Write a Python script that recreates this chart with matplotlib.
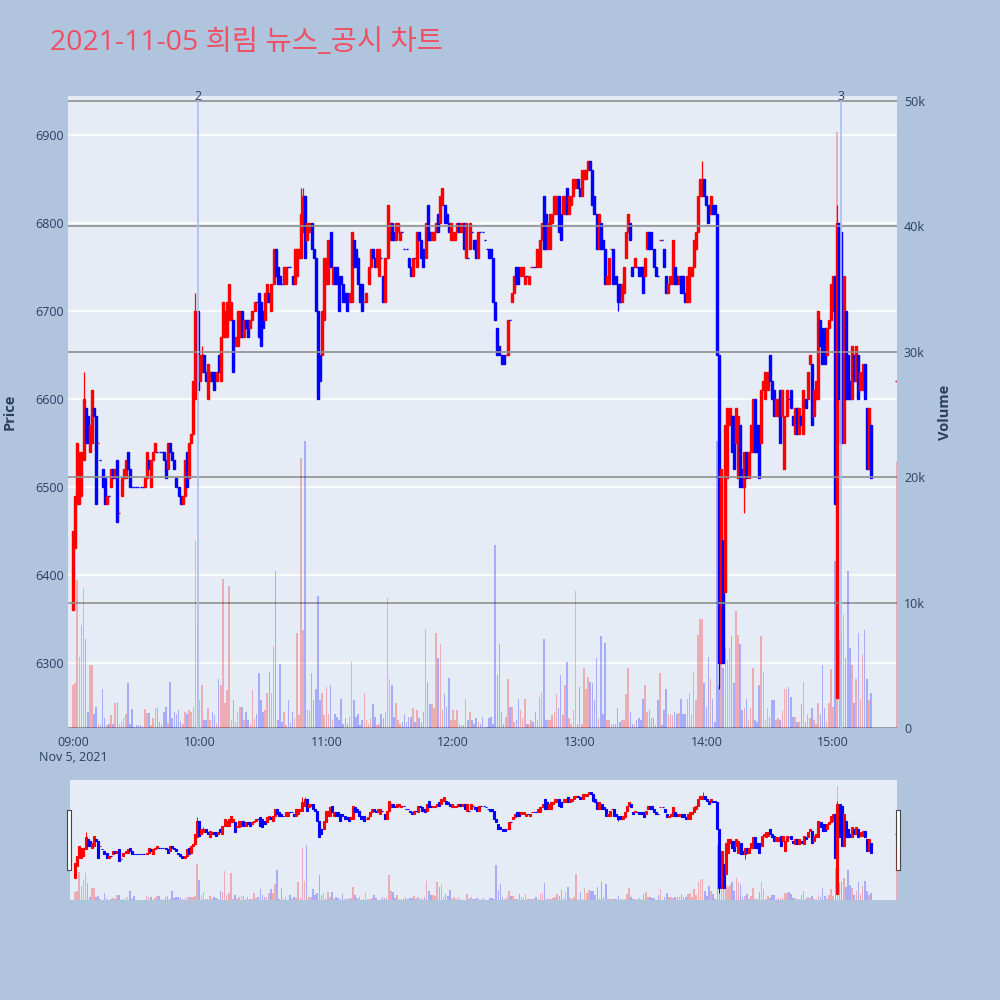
import numpy as np
import pandas as pd
import matplotlib
matplotlib.use('Agg')
import matplotlib.pyplot as plt
import matplotlib.dates as mdates
import matplotlib.transforms as mtransforms
from matplotlib.patches import Rectangle
from matplotlib.ticker import FuncFormatter

plt.rcParams['font.family'] = ['Open Sans', 'Noto Sans CJK KR', 'DejaVu Sans']

title = '2021-11-05 희림 뉴스_공시 차트'
start = '2021-11-05 09:00'

# one candle per minute from 09:00
opens = [
    6360, 6430, 6480, 6480, 6490, 6530, 6590, 6580, 6540, 6550,
    6590, 6580, 6550, 6530, 6520, 6510, 6480, 6490, 6500, 6520,
    6510, 6530, 6470, 6490, 6510, 6510, 6540, 6520, 6500, 6500,
    6500, 6500, 6500, 6500, 6500, 6510, 6530, 6500, 6530, 6540,
    6540, 6540, 6540, 6540, 6530, 6520, 6550, 6540, 6530, 6510,
    6500, 6490, 6480, 6490, 6540, 6510, 6550, 6560, 6600, 6700,
    6620, 6630, 6650, 6630, 6600, 6620, 6630, 6630, 6620, 6650,
    6620, 6670, 6670, 6670, 6690, 6690, 6690, 6660, 6660, 6670,
    6700, 6670, 6690, 6690, 6680, 6690, 6700, 6710, 6720, 6710,
    6700, 6690, 6710, 6720, 6700, 6730, 6770, 6750, 6740, 6730,
    6730, 6730, 6750, 6750, 6740, 6730, 6740, 6760, 6760, 6790,
    6830, 6780, 6790, 6800, 6770, 6760, 6700, 6650, 6650, 6690,
    6730, 6730, 6790, 6730, 6750, 6750, 6740, 6740, 6730, 6720,
    6720, 6710, 6710, 6780, 6770, 6760, 6730, 6730, 6710, 6710,
    6730, 6750, 6770, 6760, 6750, 6740, 6760, 6740, 6710, 6760,
    6780, 6800, 6790, 6780, 6790, 6780, 6790, 6770, 6770, 6760,
    6750, 6740, 6760, 6750, 6790, 6780, 6770, 6760, 6820, 6790,
    6780, 6780, 6790, 6810, 6800, 6820, 6820, 6810, 6800, 6780,
    6780, 6780, 6790, 6800, 6790, 6800, 6760, 6760, 6770, 6790,
    6780, 6780, 6760, 6790, 6790, 6780, 6770, 6770, 6770, 6760,
    6710, 6680, 6660, 6650, 6650, 6650, 6650, 6690, 6710, 6720,
    6750, 6750, 6740, 6740, 6730, 6740, 6730, 6750, 6750, 6750,
    6750, 6750, 6780, 6830, 6810, 6770, 6770, 6800, 6810, 6810,
    6830, 6810, 6810, 6810, 6840, 6810, 6820, 6830, 6840, 6850,
    6840, 6830, 6850, 6850, 6860, 6870, 6860, 6830, 6810, 6770,
    6800, 6780, 6770, 6730, 6730, 6770, 6770, 6740, 6730, 6730,
    6710, 6720, 6760, 6790, 6800, 6750, 6750, 6750, 6750, 6750,
    6750, 6740, 6770, 6790, 6790, 6770, 6750, 6740, 6780, 6780,
    6770, 6740, 6720, 6730, 6730, 6750, 6740, 6730, 6740, 6740,
    6720, 6710, 6710, 6740, 6750, 6770, 6790, 6830, 6830, 6850,
    6830, 6820, 6810, 6820, 6820, 6810, 6650, 6300, 6440, 6380,
    6510, 6570, 6580, 6580, 6550, 6510, 6570, 6520, 6500, 6540,
    6510, 6540, 6540, 6600, 6570, 6570, 6550, 6610, 6600, 6610,
    6650, 6620, 6610, 6580, 6580, 6610, 6580, 6520, 6580, 6600,
    6610, 6580, 6560, 6590, 6560, 6580, 6560, 6600, 6600, 6640,
    6640, 6580, 6600, 6600, 6690, 6680, 6680, 6650, 6680, 6690,
    6700, 6740, 6260, 6800, 6790, 6550, 6700, 6650, 6620, 6600,
    6650, 6620, 6650, 6610, 6610, 6640, 6590, 6520, 6570,
]
closes = [
    6450, 6490, 6550, 6540, 6540, 6600, 6550, 6550, 6570, 6610,
    6580, 6480, 6550, 6530, 6500, 6480, 6490, 6490, 6520, 6510,
    6520, 6460, 6470, 6510, 6520, 6530, 6520, 6500, 6500, 6500,
    6500, 6500, 6500, 6500, 6510, 6540, 6520, 6530, 6540, 6550,
    6540, 6540, 6540, 6530, 6510, 6550, 6540, 6530, 6520, 6500,
    6490, 6480, 6490, 6530, 6500, 6550, 6560, 6620, 6700, 6610,
    6650, 6650, 6630, 6620, 6640, 6630, 6620, 6610, 6630, 6630,
    6670, 6710, 6700, 6710, 6730, 6710, 6630, 6670, 6700, 6700,
    6670, 6690, 6680, 6670, 6690, 6700, 6710, 6710, 6670, 6660,
    6680, 6720, 6730, 6710, 6730, 6770, 6740, 6730, 6730, 6730,
    6750, 6750, 6750, 6750, 6730, 6770, 6770, 6770, 6810, 6830,
    6760, 6800, 6800, 6770, 6760, 6700, 6600, 6620, 6700, 6760,
    6760, 6780, 6750, 6750, 6730, 6730, 6700, 6730, 6710, 6710,
    6700, 6720, 6790, 6750, 6750, 6730, 6710, 6700, 6710, 6720,
    6750, 6770, 6760, 6750, 6770, 6770, 6760, 6710, 6760, 6820,
    6800, 6780, 6780, 6800, 6800, 6790, 6790, 6770, 6770, 6750,
    6740, 6760, 6760, 6790, 6780, 6760, 6750, 6800, 6780, 6780,
    6790, 6790, 6800, 6790, 6830, 6840, 6800, 6800, 6790, 6800,
    6790, 6790, 6800, 6790, 6800, 6770, 6800, 6760, 6800, 6790,
    6770, 6760, 6790, 6790, 6790, 6780, 6770, 6760, 6760, 6710,
    6690, 6650, 6650, 6640, 6640, 6650, 6690, 6690, 6720, 6740,
    6730, 6730, 6750, 6750, 6740, 6740, 6740, 6750, 6750, 6750,
    6770, 6780, 6800, 6770, 6770, 6800, 6810, 6810, 6830, 6830,
    6790, 6780, 6830, 6830, 6810, 6830, 6830, 6850, 6850, 6840,
    6830, 6860, 6860, 6860, 6870, 6860, 6820, 6810, 6770, 6810,
    6770, 6770, 6730, 6740, 6760, 6770, 6730, 6730, 6710, 6710,
    6730, 6750, 6790, 6810, 6780, 6740, 6760, 6750, 6740, 6740,
    6720, 6760, 6790, 6770, 6770, 6750, 6740, 6740, 6780, 6780,
    6750, 6720, 6730, 6740, 6780, 6730, 6730, 6740, 6720, 6720,
    6710, 6740, 6750, 6750, 6780, 6790, 6830, 6850, 6850, 6830,
    6820, 6800, 6830, 6810, 6810, 6650, 6300, 6520, 6300, 6570,
    6590, 6590, 6540, 6520, 6590, 6580, 6500, 6500, 6540, 6510,
    6540, 6570, 6600, 6540, 6540, 6510, 6610, 6620, 6630, 6630,
    6620, 6600, 6580, 6600, 6600, 6550, 6610, 6580, 6610, 6600,
    6590, 6570, 6590, 6560, 6590, 6570, 6610, 6590, 6630, 6650,
    6570, 6610, 6620, 6700, 6660, 6640, 6640, 6680, 6690, 6730,
    6740, 6480, 6800, 6600, 6550, 6740, 6600, 6600, 6600, 6660,
    6620, 6660, 6600, 6630, 6640, 6600, 6520, 6590, 6510,
]
# volume in thousands of shares
volumes_k = [
    3.4, 3.6, 11.8, 5.7, 8.2, 11.2, 7.1, 1.3, 5.0, 5.0,
    1.1, 1.7, 0.3, 0.2, 3.1, 0.8, 0.2, 0.3, 1.0, 0.3,
    2.0, 2.1, 0.3, 0.5, 0.8, 1.1, 3.6, 0.3, 1.5, 0.1,
    0.2, 0.2, 0.2, 0.1, 1.5, 1.2, 1.2, 0.2, 0.8, 1.6,
    1.6, 0.5, 0.2, 1.3, 1.7, 0.4, 3.7, 0.8, 1.3, 1.1,
    1.4, 0.5, 0.3, 1.3, 1.1, 1.4, 1.3, 1.7, 14.9, 8.2,
    2.2, 3.4, 0.6, 0.6, 1.6, 0.6, 1.3, 1.0, 0.4, 3.9,
    3.4, 11.9, 2.0, 3.0, 11.3, 0.6, 2.2, 0.5, 1.3, 1.7,
    1.7, 0.6, 1.3, 0.6, 0.3, 3.0, 0.8, 1.1, 4.4, 2.2,
    1.3, 1.4, 2.8, 4.5, 2.8, 6.5, 12.5, 0.6, 5.1, 0.5,
    1.3, 0.2, 2.2, 0.4, 1.3, 0.8, 7.6, 1.0, 21.5, 7.8,
    22.9, 1.4, 1.4, 4.4, 2.2, 3.1, 10.5, 2.2, 2.8, 1.0,
    3.3, 1.1, 3.4, 0.6, 1.1, 0.9, 0.6, 2.3, 0.3, 0.8,
    0.3, 0.9, 5.3, 2.2, 0.9, 1.1, 0.2, 0.6, 2.8, 0.6,
    0.3, 0.8, 1.9, 0.9, 0.2, 0.3, 1.1, 0.8, 1.3, 10.4,
    3.9, 3.4, 0.9, 2.0, 0.6, 0.3, 0.5, 1.1, 0.5, 0.9,
    0.9, 1.6, 0.5, 1.4, 0.8, 0.5, 1.3, 7.9, 3.7, 1.9,
    1.9, 1.6, 7.6, 5.6, 6.7, 1.4, 2.7, 1.7, 4.0, 0.6,
    1.4, 0.6, 1.4, 0.3, 0.2, 0.2, 2.3, 0.6, 1.3, 0.6,
    0.3, 0.8, 0.5, 0.3, 0.9, 0.1, 0.1, 0.8, 0.9, 0.3,
    14.6, 4.2, 6.7, 1.3, 0.3, 0.9, 3.9, 1.7, 1.7, 0.5,
    0.6, 2.3, 1.4, 0.8, 2.3, 0.3, 0.3, 0.6, 0.5, 1.3,
    0.6, 2.5, 2.8, 7.1, 0.6, 0.6, 0.6, 1.0, 1.3, 2.7,
    1.6, 4.2, 1.0, 3.4, 5.3, 0.8, 0.3, 1.4, 10.9, 0.3,
    3.3, 0.3, 4.8, 3.1, 4.1, 3.7, 3.6, 2.2, 5.6, 0.8,
    7.3, 1.1, 6.8, 0.6, 0.6, 0.3, 0.3, 0.3, 1.6, 0.5,
    0.6, 0.6, 2.7, 4.8, 1.3, 0.3, 0.3, 0.6, 0.8, 0.6,
    2.3, 3.4, 1.3, 1.4, 0.8, 0.8, 0.2, 2.2, 4.4, 0.2,
    1.4, 3.1, 1.1, 1.1, 1.0, 1.3, 1.1, 1.2, 2.3, 1.1,
    1.1, 2.3, 2.8, 1.1, 4.5, 2.2, 7.4, 8.7, 8.7, 3.6,
    1.7, 5.7, 3.9, 2.3, 0.5, 22.9, 3.4, 5.9, 4.8, 6.4,
    5.4, 6.4, 7.3, 3.6, 9.3, 7.4, 6.7, 1.4, 1.6, 2.3,
    0.6, 1.6, 4.8, 0.6, 0.5, 3.4, 7.3, 4.5, 0.6, 1.6,
    0.9, 2.2, 2.2, 0.6, 0.8, 0.6, 1.4, 3.1, 3.1, 3.3,
    2.5, 0.9, 0.9, 0.5, 0.5, 1.9, 3.7, 0.5, 1.1, 0.8,
    1.6, 0.6, 0.3, 2.0, 1.1, 5.0, 1.6, 0.5, 2.0, 4.7,
    1.7, 13.3, 47.5, 7.0, 7.4, 9.0, 5.6, 12.5, 6.4, 5.0,
    2.0, 3.9, 7.6, 2.3, 5.9, 7.8, 3.9, 2.2, 2.8,
]
# wicks that stick out of the body (minute index -> price)
wick_high = {5: 6630, 58: 6720, 61: 6660, 108: 6840, 109: 6840, 298: 6870, 362: 6820}
wick_low = {258: 6700, 306: 6270, 318: 6470}

# closing auction
auction_time = '2021-11-05 15:30'
auction_price = 6620
auction_volume_k = 21.2

# news / disclosure markers
news_times = ['2021-11-05 09:59', '2021-11-05 15:04']
news_labels = ['2', '3']

price_ticks = [6300, 6400, 6500, 6600, 6700, 6800, 6900]
volume_ticks = [0, 10000, 20000, 30000, 40000, 50000]

# ---------------------------------------------------------------
times = pd.date_range(start, periods=len(opens), freq='min')
df = pd.DataFrame({'open': opens, 'close': closes,
                   'volume': np.array(volumes_k) * 1000}, index=times)
df['high'] = df[['open', 'close']].max(axis=1)
df['low'] = df[['open', 'close']].min(axis=1)
for k, v in wick_high.items():
    df.iloc[k, df.columns.get_loc('high')] = v
for k, v in wick_low.items():
    df.iloc[k, df.columns.get_loc('low')] = v
df.loc[pd.Timestamp(auction_time)] = [auction_price, auction_price,
                                      auction_volume_k * 1000,
                                      auction_price, auction_price]

prev_close = df['close'].shift(1)
up = (df['close'] > df['open']) | ((df['close'] == df['open']) & (df['close'] > prev_close))
colors = np.where(up, '#FF0000', '#0000FF')
x = mdates.date2num(df.index)
one_min = 1 / 1440

BG = '#B0C4DE'
PLOT_BG = '#E5ECF6'
TXT = '#2a3f5f'
x_lo = mdates.date2num(pd.Timestamp('2021-11-05 08:57:38'))
x_hi = mdates.date2num(pd.Timestamp('2021-11-05 15:30:18'))
p_lo, p_hi = 6226, 6944
v_lo, v_hi = 0, 50400


def draw(ax, axv, body_w, vol_w, lw_body, lw_wick):
    ax.vlines(x, df['low'], df['high'], colors=colors, lw=lw_wick, zorder=2)
    lo = np.minimum(df['open'], df['close'])
    h = np.abs(df['close'] - df['open'])
    ax.bar(x, h, bottom=lo, width=body_w, color=colors, edgecolor=colors,
           linewidth=lw_body, zorder=3)
    axv.bar(x, df['volume'], width=vol_w, color=colors, alpha=0.27,
            linewidth=0, zorder=2)


fig = plt.figure(figsize=(10, 10), dpi=100, facecolor=BG)

# main chart
ax = fig.add_axes([0.068, 0.272, 0.829, 0.632])
ax.set_facecolor(PLOT_BG)
axv = ax.twinx()
draw(ax, axv, 0.95 * one_min, 0.75 * one_min, 1.0, 0.9)

ax.set_xlim(x_lo, x_hi)
ax.set_ylim(p_lo, p_hi)
axv.set_ylim(v_lo, v_hi)
for a in (ax, axv):
    for s in a.spines.values():
        s.set_visible(False)
ax.set_yticks(price_ticks)
ax.grid(axis='y', color='white', lw=1.1)
ax.set_axisbelow(True)
axv.set_yticks(volume_ticks)
axv.yaxis.set_major_formatter(FuncFormatter(lambda v, p: '0' if v == 0 else f'{int(v / 1000)}k'))
axv.grid(axis='y', color='#8f8f8f', lw=1.2, zorder=1)
ax.tick_params(axis='y', length=0, labelsize=9, labelcolor=TXT, pad=3)
axv.tick_params(axis='y', length=0, labelsize=9, labelcolor=TXT, pad=5)

ax.xaxis.set_major_locator(mdates.HourLocator())


def fmt_time(v, pos):
    d = mdates.num2date(v)
    s = d.strftime('%H:%M')
    if d.hour == 9:
        s += '\nNov 5, 2021'
    return s


ax.xaxis.set_major_formatter(FuncFormatter(fmt_time))
ax.tick_params(axis='x', length=0, labelsize=9, labelcolor=TXT, pad=6)
axv.tick_params(axis='x', length=0)

# news markers
trans = mtransforms.blended_transform_factory(axv.transData, axv.transAxes)
for t, lab in zip(news_times, news_labels):
    xt = mdates.date2num(pd.Timestamp(t))
    axv.axvline(xt, ymin=0, ymax=0.992, color='#A9BFEF', lw=1.2, zorder=4)
    axv.text(xt, 1.0, lab, transform=trans, ha='center', va='center',
             fontsize=9, color=TXT, zorder=5)

fig.text(0.010, 0.588, 'Price', rotation=90, ha='center', va='center',
         fontsize=10.5, fontweight='bold', color=TXT)
fig.text(0.945, 0.588, 'Volume', rotation=90, ha='center', va='center',
         fontsize=10.5, fontweight='bold', color=TXT)

fig.text(0.050, 0.950, title, fontsize=20.5, color='#EE5064', ha='left', va='baseline')

# range slider
axs = fig.add_axes([0.070, 0.100, 0.827, 0.120])
axs.set_facecolor(PLOT_BG)
axsv = axs.twinx()
draw(axs, axsv, 0.95 * one_min, 0.75 * one_min, 0.8, 0.7)
axs.set_xlim(x_lo, x_hi)
axs.set_ylim(p_lo, p_hi)
axsv.set_ylim(0, 50000)
for a in (axs, axsv):
    a.set_xticks([])
    a.set_yticks([])
    for s in a.spines.values():
        s.set_visible(False)
for xh in (-0.004, 0.999):
    axs.add_patch(Rectangle((xh, 0.25), 0.005, 0.5, transform=axs.transAxes,
                            facecolor='white', edgecolor='#444444', lw=0.8,
                            clip_on=False, zorder=10))

fig.savefig('out.png', dpi=100, facecolor=BG)
